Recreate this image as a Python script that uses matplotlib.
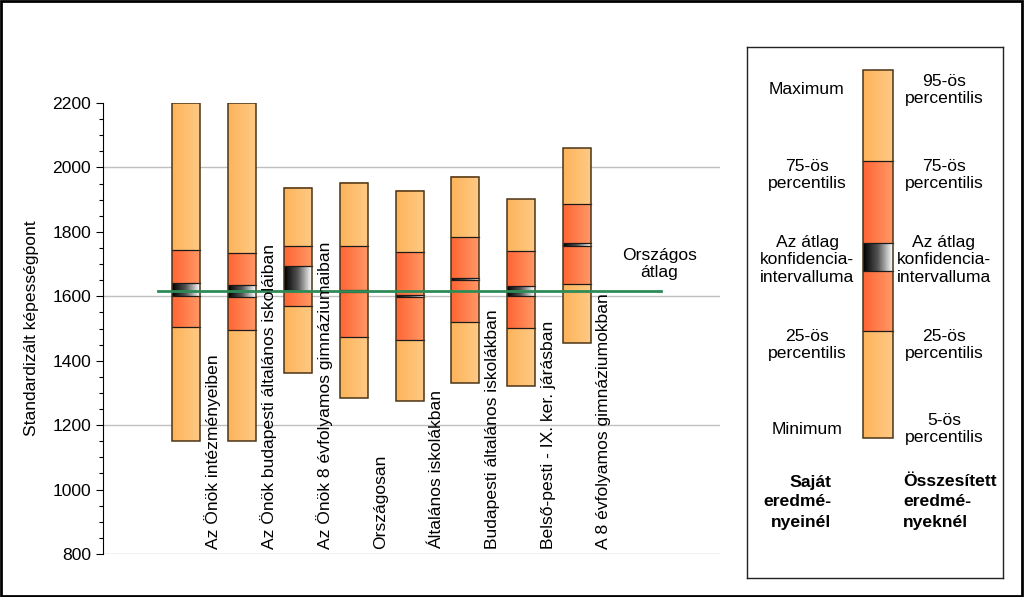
import numpy as np
import matplotlib
matplotlib.use('Agg')
import matplotlib.pyplot as plt
from matplotlib.colors import LinearSegmentedColormap
from matplotlib.patches import Rectangle

plt.rcParams['font.family'] = ['Liberation Sans', 'DejaVu Sans']

# DATA
categories = [
    'Az Önök intézményeiben',
    'Az Önök budapesti általános iskoláiban',
    'Az Önök 8 évfolyamos gimnáziumaiban',
    'Országosan',
    'Általános iskolákban',
    'Budapesti általános iskolákban',
    'Belső-pesti - IX. ker. járásban',
    'A 8 évfolyamos gimnáziumokban',
]
minimum = [1150, 1150, 1363, 1285, 1276, 1330, 1320, 1456]
p25 = [1505, 1496, 1571, 1475, 1463, 1519, 1501, 1637]
conf_lo = [1601, 1597, 1615, 1613, 1599, 1651, 1600, 1756]
conf_hi = [1641, 1636, 1695, 1619, 1603, 1656, 1631, 1766]
p75 = [1744, 1735, 1755, 1755, 1738, 1783, 1742, 1887]
maximum = [2200, 2200, 1936, 1953, 1928, 1971, 1903, 2060]
national_avg = 1617
y_ticks = [800, 1000, 1200, 1400, 1600, 1800, 2000, 2200]
grid_vals = [800, 1200, 1600, 2000]

FS = 12.6

# gradient colormaps (left -> right)
cm_light = LinearSegmentedColormap.from_list('light', ['#FDB45A', '#FFC985'])
cm_mid = LinearSegmentedColormap.from_list('mid', ['#FF6534', '#FF9866'])
cm_conf = LinearSegmentedColormap.from_list('conf', ['#000000', '#555555', '#FFFFFF'])
grad = np.linspace(0, 1, 64).reshape(1, -1)


def gradient_box(ax, x0, x1, y0, y1, cmap):
    if y1 - y0 <= 0:
        return
    ax.imshow(grad, cmap=cmap, extent=(x0, x1, y0, y1), aspect='auto',
              origin='lower', zorder=2, interpolation='bicubic')


def draw_box(ax, x, w, lo, q1, c_lo, c_hi, q3, hi):
    x0, x1 = x - w / 2, x + w / 2
    gradient_box(ax, x0, x1, lo, q1, cm_light)
    gradient_box(ax, x0, x1, q1, c_lo, cm_mid)
    gradient_box(ax, x0, x1, c_lo, c_hi, cm_conf)
    gradient_box(ax, x0, x1, c_hi, q3, cm_mid)
    gradient_box(ax, x0, x1, q3, hi, cm_light)
    for v in (q1, c_lo, c_hi, q3):
        ax.plot([x0, x1], [v, v], color='#1a1a1a', lw=0.9, zorder=3)
    ax.add_patch(Rectangle((x0, lo), w, hi - lo, fill=False,
                           edgecolor='#4a3418', lw=1.1, zorder=4))


fig = plt.figure(figsize=(10.24, 5.97), dpi=100)
ax = fig.add_axes([103 / 1024, 1 - 554 / 597, 617 / 1024, 451 / 597])

x = np.arange(len(categories))
for i in range(len(categories)):
    draw_box(ax, x[i], 0.5, minimum[i], p25[i], conf_lo[i], conf_hi[i],
             p75[i], maximum[i])

for g in grid_vals:
    ax.axhline(g, color='#C0C0C0', lw=1, zorder=1)

ax.plot([-0.5, 8.5], [national_avg, national_avg], color='#2E8B57',
        lw=2, zorder=5)
ax.text(8.47, 1700, 'Országos\nátlag', ha='center', va='center',
        fontsize=FS, linespacing=1.15)

for i, lab in enumerate(categories):
    ax.text(x[i] + 0.48, 815, lab, rotation=90, ha='center', va='bottom',
            fontsize=FS, zorder=6)

ax.set_xlim(-1.49, 9.56)
ax.set_ylim(800, 2200)
ax.set_yticks(y_ticks)
ax.set_yticks(np.arange(800, 2201, 50), minor=True)
ax.tick_params(axis='y', which='major', length=5, labelsize=FS, width=0.8)
ax.tick_params(axis='y', which='minor', length=3, width=0.8)
ax.set_xticks([])
for s in ('top', 'right', 'bottom'):
    ax.spines[s].set_visible(False)
ax.spines['left'].set_linewidth(0.8)
ax.set_ylabel('Standardizált képességpont', fontsize=FS, labelpad=10)

# legend panel
lg = fig.add_axes([747 / 1024, 1 - 578 / 597, 256 / 1024, 531 / 597])
lg.set_xticks([])
lg.set_yticks([])
for s in lg.spines.values():
    s.set_linewidth(1)
    s.set_color('#222222')

lx0, lx1 = 116, 146
gradient_box(lg, lx0, lx1, 284, 391, cm_light)
gradient_box(lg, lx0, lx1, 224, 284, cm_mid)
gradient_box(lg, lx0, lx1, 196, 224, cm_conf)
gradient_box(lg, lx0, lx1, 114, 196, cm_mid)
gradient_box(lg, lx0, lx1, 23, 114, cm_light)
for v in (114, 196, 224, 284):
    lg.plot([lx0, lx1], [v, v], color='#1a1a1a', lw=0.9, zorder=3)
lg.add_patch(Rectangle((lx0, 23), lx1 - lx0, 391 - 23, fill=False,
                       edgecolor='#4a3418', lw=1.1, zorder=4))
lg.set_xlim(0, 256)
lg.set_ylim(531, 0)

left_txt = ['Maximum', '75-ös\npercentilis', 'Az átlag\nkonfidencia-\nintervalluma',
            '25-ös\npercentilis', 'Minimum']
right_txt = ['95-ös\npercentilis', '75-ös\npercentilis',
             'Az átlag\nkonfidencia-\nintervalluma', '25-ös\npercentilis',
             '5-ös\npercentilis']
text_y = [43, 128, 213, 298, 382]
for t, yy in zip(left_txt, text_y):
    lg.text(60, yy, t, ha='center', va='center', fontsize=FS, linespacing=1.2)
for t, yy in zip(right_txt, text_y):
    lg.text(197, yy, t, ha='center', va='center', fontsize=FS, linespacing=1.2)

bold_y = [435, 455, 475]
for t, yy in zip(['Saját', 'eredmé-', 'nyeinél'], bold_y):
    lg.text(84, yy, t, ha='right', va='center', fontsize=FS, fontweight='bold')
for t, yy in zip(['Összesített', 'eredmé-', 'nyeknél'], bold_y):
    lg.text(156, yy, t, ha='left', va='center', fontsize=FS, fontweight='bold')

# outer frame
fig.patches.append(Rectangle((0.001, 0.002), 0.997, 0.996, transform=fig.transFigure,
                             fill=False, edgecolor='black', lw=2))

fig.savefig('out.png', dpi=100)
